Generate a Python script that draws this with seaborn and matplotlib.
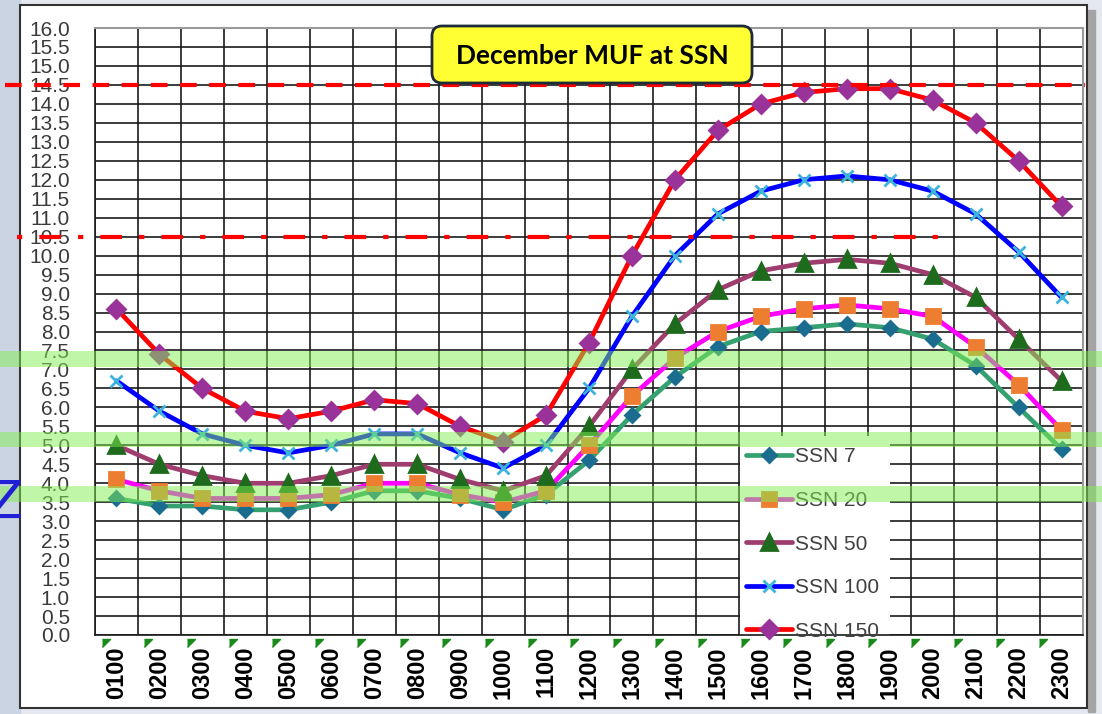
import numpy as np
import pandas as pd
import matplotlib
matplotlib.use('Agg')
import matplotlib.pyplot as plt
from matplotlib.patches import Rectangle, FancyBboxPatch
from matplotlib.transforms import IdentityTransform
import seaborn as sns

# hours of the day (UTC) and MUF in MHz per sunspot number
hours = ['0100', '0200', '0300', '0400', '0500', '0600', '0700', '0800', '0900', '1000', '1100', '1200',
         '1300', '1400', '1500', '1600', '1700', '1800', '1900', '2000', '2100', '2200', '2300']
ssn7 = [3.6, 3.4, 3.4, 3.3, 3.3, 3.5, 3.8, 3.8, 3.6, 3.3, 3.7, 4.6, 5.8, 6.8, 7.6, 8.0, 8.1, 8.2, 8.1, 7.8, 7.1, 6.0, 4.9]
ssn20 = [4.1, 3.8, 3.6, 3.6, 3.6, 3.7, 4.0, 4.0, 3.7, 3.5, 3.8, 5.0, 6.3, 7.3, 8.0, 8.4, 8.6, 8.7, 8.6, 8.4, 7.6, 6.6, 5.4]
ssn50 = [5.0, 4.5, 4.2, 4.0, 4.0, 4.2, 4.5, 4.5, 4.1, 3.8, 4.2, 5.5, 7.0, 8.2, 9.1, 9.6, 9.8, 9.9, 9.8, 9.5, 8.9, 7.8, 6.7]
ssn100 = [6.7, 5.9, 5.3, 5.0, 4.8, 5.0, 5.3, 5.3, 4.8, 4.4, 5.0, 6.5, 8.4, 10.0, 11.1, 11.7, 12.0, 12.1, 12.0, 11.7, 11.1, 10.1, 8.9]
ssn150 = [8.6, 7.4, 6.5, 5.9, 5.7, 5.9, 6.2, 6.1, 5.5, 5.1, 5.8, 7.7, 10.0, 12.0, 13.3, 14.0, 14.3, 14.4, 14.4, 14.1, 13.5, 12.5, 11.3]

# ham bands highlighted (MHz) and the reference lines
bands = [(3.5, 3.93), (4.96, 5.36), (7.07, 7.49)]
ref_dash = 14.5
ref_dashdot = 10.5

df = pd.DataFrame({'hour': hours, 'SSN 7': ssn7, 'SSN 20': ssn20, 'SSN 50': ssn50,
                   'SSN 100': ssn100, 'SSN 150': ssn150})

series = [
    ('SSN 7', '#35a070', 'D', 7, '#1b6d8f'),
    ('SSN 20', '#ff00ff', 's', 10, '#ed7d31'),
    ('SSN 50', '#9e3d6e', '^', 11, '#1e6b1e'),
    ('SSN 100', '#0000ff', 'x', 9, '#3cb4dc'),
    ('SSN 150', '#ff0000', 'D', 9, '#993399'),
]

sns.set_style('white')
plt.rcParams['font.family'] = ['Liberation Sans', 'DejaVu Sans']

W, H = 1102, 714
fig = plt.figure(figsize=(W / 100, H / 100), dpi=100, facecolor='#e5e8ee')

# slide background / chart frame
fig.add_artist(Rectangle((0, 0), 20 / W, 1, transform=fig.transFigure, color='#cbd4e3', zorder=-3))
fig.add_artist(Rectangle((1088 / W, 1 - 712 / H), 7 / W, 702 / H, transform=fig.transFigure,
                         color='#a4a4a4', zorder=-2))
fig.add_artist(Rectangle((20 / W, 1 - 708 / H), 1067 / W, 703 / H, transform=fig.transFigure,
                         facecolor='white', edgecolor='#333333', lw=1.5, zorder=-1))

ax = fig.add_axes([95 / W, 1 - 635 / H, 988 / W, 607 / H])
ax.set_facecolor('white')

for lab, lc, mk, ms, fc in series:
    sns.lineplot(data=df, x='hour', y=lab, ax=ax, color=lc, lw=3.4, marker=mk, ms=ms,
                 markerfacecolor=fc, markeredgecolor=fc, mew=2, label=lab, sort=False, zorder=3)

ax.set_xlim(-0.5, 22.5)
ax.set_ylim(0, 16)
ax.set_xlabel('')
ax.set_ylabel('')
yt = np.arange(0, 16.01, 0.5)
ax.set_yticks(yt)
ax.set_yticklabels([f'{v:.1f}' for v in yt], fontsize=15, color='#3a3a3a')
ax.set_xticks(range(len(hours)))
ax.set_xticklabels(hours, rotation=90, fontsize=17, fontweight='bold', color='black')
ax.set_xticks(np.arange(-0.5, len(hours), 1), minor=True)
ax.tick_params(axis='both', which='both', length=0)
ax.tick_params(axis='y', pad=18)
ax.tick_params(axis='x', pad=8)
ax.grid(False)
ax.grid(which='minor', axis='x', color='#1a1a1a', lw=1.2)
ax.grid(which='major', axis='y', color='#1a1a1a', lw=1.2)
ax.set_axisbelow(True)
for s in ['left', 'bottom']:
    ax.spines[s].set_color('#1a1a1a')
    ax.spines[s].set_linewidth(1.2)
for s in ['top', 'right']:
    ax.spines[s].set_color('#9a9a9a')
    ax.spines[s].set_linewidth(1.5)

# little green tick wedges under the axis
tri_x = np.linspace(-0.344, 21.47, len(hours))
ax.plot(tri_x, [-0.007] * len(hours), transform=ax.get_xaxis_transform(), ls='none',
        marker=[(0, 0), (1, 0), (0, -1)], ms=11.5, color='#1a8a1a', clip_on=False, zorder=6)

# white legend area hiding the grid
ax.add_patch(Rectangle((0.653, 0), 0.152, 0.328, transform=ax.transAxes, facecolor='white',
                       edgecolor='none', zorder=1))
leg = ax.legend(loc='upper left', bbox_to_anchor=(0.647, 0.328), frameon=False, fontsize=15,
                handlelength=2.2, handletextpad=0.15, labelspacing=1.18, borderpad=0.55,
                borderaxespad=0)
for t in leg.get_texts():
    t.set_color('#404040')
leg.set_zorder(5)

# green band overlays across the whole slide
for lo, hi in bands:
    ax.axhspan(lo, hi, xmin=-95 / 988, xmax=(W - 95) / 988, color='#81ef51', alpha=0.5,
               lw=0, zorder=6, clip_on=False)

ax.plot([-0.0911, 1.002], [ref_dash, ref_dash], transform=ax.get_yaxis_transform(), color='#ff0000',
        lw=3.0, dashes=[4.0, 3.0], clip_on=False, zorder=7)
ax.plot([-0.079, 0.855], [ref_dashdot, ref_dashdot], transform=ax.get_yaxis_transform(), color='#ff0000',
        lw=3.0, dashes=[1.25, 4.1, 5.2, 4.1], clip_on=False, zorder=7)

# title box
fig.add_artist(FancyBboxPatch((432, H - 83), 320, 57, boxstyle='round,pad=0,rounding_size=10',
                              transform=IdentityTransform(), facecolor='#ffff33',
                              edgecolor='#1e2b38', lw=2, zorder=3))
fig.text(592 / W, 1 - 56 / H, 'December MUF at SSN', ha='center', va='center', fontsize=19,
         fontweight='bold', family='Lato', color='black', zorder=4)

fig.text(23 / W, 1 - 504 / H, 'Z', ha='right', va='center', fontsize=38, color='#1f1fd6',
         family='DejaVu Sans')

fig.savefig('out.png', dpi=100, facecolor=fig.get_facecolor())
